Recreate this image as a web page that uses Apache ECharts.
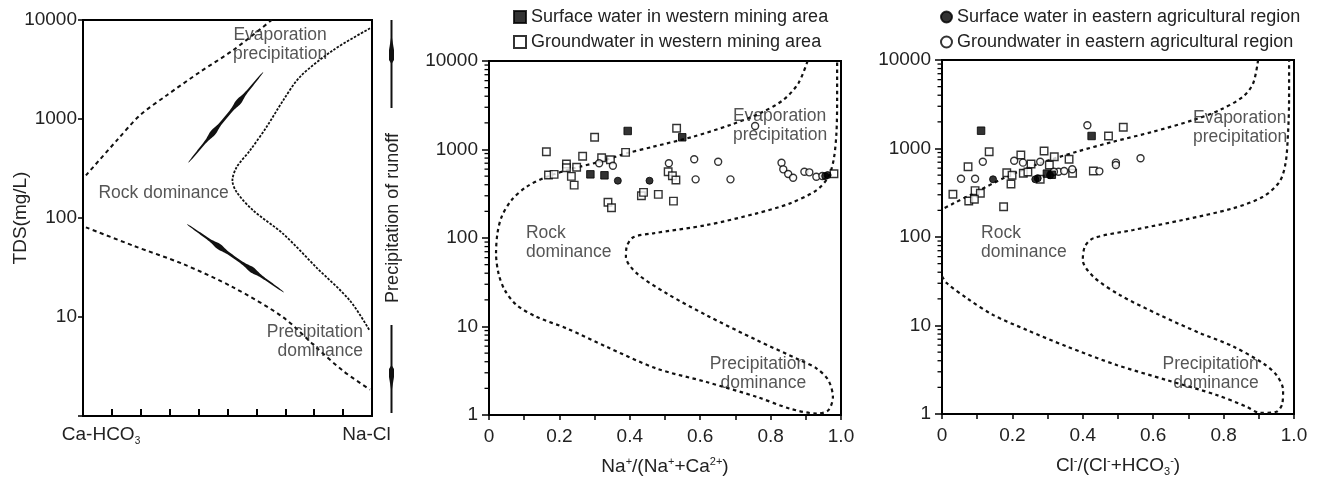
<!DOCTYPE html>
<html><head><meta charset="utf-8">
<script src="https://cdn.jsdelivr.net/npm/echarts@6/dist/echarts.min.js"></script>
<style>html,body{margin:0;padding:0;background:#fff}#c{width:1320px;height:477px}</style>
</head><body><div id="c"></div><script>
// ---------------- DATA ----------------
const SW_W = 'Surface water in western mining area';
const GW_W = 'Groundwater in western mining area';
const SW_E = 'Surface water in eastern agricultural region';
const GW_E = 'Groundwater in eastern agricultural region';

// Panel 1 (schematic Gibbs), x in 0..10 units between Ca-HCO3 and Na-Cl, y = TDS mg/L
const p1Upper = [[0.10,269],[1.17,608],[1.97,1090],[2.90,1738],[4.05,2990],[5.20,4970],[6.53,10000]];
const p1Lower = [[0.10,80.5],[1.74,52.5],[3.47,34.2],[5.20,19.9],[6.93,9.9],[8.08,4.9],[9.01,2.84],[9.93,1.85]];
const p1Right = [[9.93,8240],[8.66,4970],[7.51,2670],[6.93,1548],[6.35,830],[5.78,482],[5.32,327],[5.17,239],[5.32,182],[5.89,119],[6.93,69],[8.08,31.6],[9.24,14.6],[9.93,7.2]];
const p1Spindles = [[3.64,361,6.24,2990],[3.59,87,6.96,17.7]];
const p1EndLabels = ['Ca-HCO', '3', 'Na-Cl'];

// Panel 2: Na+/(Na+ + Ca2+)
const gibbsNa = [[0.905,10000],[0.879,5610],[0.836,3630],[0.770,2570],[0.685,1893],[0.580,1396],[0.467,1076],[0.391,906],[0.315,728],[0.240,612],[0.164,492],[0.107,380],[0.064,268],[0.036,174],[0.024,113],[0.020,67],[0.027,39.8],[0.045,25.7],[0.079,17.4],[0.136,12.8],[0.221,9.5],[0.334,5.9],[0.476,3.35],[0.618,2.36],[0.761,1.60],[0.855,1.18],[0.931,1.04],[0.964,1.13],[0.977,1.60],[0.964,2.47],[0.931,3.35],[0.884,4.16],[0.761,7.0],[0.618,13.4],[0.505,23.6],[0.420,39.8],[0.389,61],[0.391,79],[0.410,102],[0.467,113],[0.618,140],[0.761,190],[0.855,246],[0.931,348],[0.964,492],[0.979,760],[0.987,1524],[0.989,3630],[0.989,10000]];
const naSurfWest = [[0.394,1619],[0.549,1374],[0.288,524],[0.328,511]];
const naGroundWest = [[0.163,944],[0.300,1374],[0.388,929],[0.266,838],[0.220,686],[0.220,622],[0.249,629],[0.320,807],[0.345,767],[0.169,515],[0.185,524],[0.234,497],[0.242,396],[0.338,253],[0.348,220],[0.433,300],[0.439,328],[0.481,311],[0.533,1738],[0.509,561],[0.521,506],[0.531,452],[0.524,261],[0.980,532]];
const naSurfEast = [[0.366,444],[0.456,444],[0.955,501],[0.962,514]];
const naGroundEast = [[0.313,698],[0.352,656],[0.511,698],[0.756,1845],[0.583,775],[0.651,728],[0.587,460],[0.686,460],[0.831,709],[0.836,597],[0.850,528],[0.864,480],[0.896,561],[0.910,552],[0.930,492],[0.947,501]];

// Panel 3: Cl-/(Cl- + HCO3-)
const gibbsClUpper = [[0.898,10000],[0.884,5460],[0.855,3850],[0.789,2720],[0.714,2100],[0.600,1549],[0.487,1194],[0.383,920],[0.279,681],[0.184,480],[0.090,312],[0.033,240],[0.0,205]];
const gibbsClLower = [[0.0,36],[0.014,30],[0.071,20.3],[0.146,13.1],[0.241,8.9],[0.354,5.8],[0.496,3.58],[0.638,2.42],[0.780,1.64],[0.865,1.21],[0.903,1.03],[0.950,1.06],[0.967,1.32],[0.969,1.87],[0.950,2.76],[0.912,3.74],[0.827,5.8],[0.733,8.2],[0.619,13.1],[0.506,22],[0.430,35.6],[0.400,55],[0.406,78],[0.430,97],[0.543,120],[0.685,156],[0.827,211],[0.912,285],[0.959,422],[0.976,681],[0.983,1486],[0.986,3530],[0.986,10000]];
const clSurfWest = [[0.111,1589],[0.425,1384],[0.298,520],[0.312,505]];
const clGroundWest = [[0.031,304],[0.074,623],[0.134,920],[0.094,334],[0.109,312],[0.076,255],[0.092,267],[0.175,220],[0.184,533],[0.196,397],[0.199,498],[0.224,845],[0.231,525],[0.244,543],[0.253,668],[0.290,937],[0.305,651],[0.319,808],[0.361,755],[0.371,525],[0.279,449],[0.473,1384],[0.515,1735],[0.430,557]];
const clSurfEast = [[0.145,449],[0.265,449],[0.272,461],[0.307,498]];
const clGroundEast = [[0.413,1830],[0.116,709],[0.054,456],[0.094,456],[0.205,728],[0.230,692],[0.279,709],[0.331,547],[0.347,557],[0.370,582],[0.447,552],[0.494,692],[0.494,651],[0.564,775],[0.318,547]];

// ---------------- STYLE / BUILD ----------------
const FONT = "'Liberation Sans', Arial, sans-serif";
const TXT = '#222';
const minorLogTicks = [];
for (let d = 0; d < 4; d++) for (let k = 2; k <= 9; k++) minorLogTicks.push([0, k * Math.pow(10, d)]);

const chart = echarts.init(document.getElementById('c'), null, {renderer: 'canvas'});

const logFmt = v => String(Math.round(v));
function ratioX(gi) {
  return {
    gridIndex: gi, type: 'value', min: 0, max: 1, interval: 0.1,
    axisLine: {show: true, onZero: false, lineStyle: {color: '#000', width: 2}},
    axisTick: {show: true, inside: false, length: 5, lineStyle: {color: '#000', width: 1.5}},
    axisLabel: {fontSize: 19, fontFamily: FONT, color: TXT, margin: 12,
      formatter: v => v === 0 ? '0' : (Math.round(v * 10) % 2 === 0 ? v.toFixed(1) : '')},
    splitLine: {show: false},
    nameLocation: 'middle', nameGap: 41, nameMoveOverlap: false,
    nameTextStyle: {fontSize: 19, fontFamily: FONT, color: TXT, lineHeight: 22,
      rich: {sup: {fontSize: 11, lineHeight: 11, verticalAlign: 'top', fontFamily: FONT, color: TXT},
             sub: {fontSize: 11, lineHeight: 11, verticalAlign: 'bottom', fontFamily: FONT, color: TXT}}}
  };
}
function logY(gi) {
  return {
    gridIndex: gi, type: 'log', logBase: 10, min: 1, max: 10000,
    axisLine: {show: true, onZero: false, lineStyle: {color: '#000', width: 2}},
    axisTick: {show: true, length: 7, lineStyle: {color: '#000', width: 1.5}},
    axisLabel: {fontSize: 19, fontFamily: FONT, color: TXT, margin: 11, formatter: logFmt},
    splitLine: {show: false}
  };
}
function minorTicks(xi, yi) {
  return {type: 'custom', xAxisIndex: xi, yAxisIndex: yi, data: minorLogTicks, silent: true, clip: false, z: 6,
    renderItem: (params, api) => {
      const p = api.coord([api.value(0), api.value(1)]);
      return {type: 'line', shape: {x1: p[0] - 4.5, y1: p[1], x2: p[0], y2: p[1]},
        style: {stroke: '#000', lineWidth: 1.3}};
    }};
}

function scatter(name, xi, yi, data, symbol, filled) {
  return {
    type: 'scatter', name, xAxisIndex: xi, yAxisIndex: yi, data, symbol,
    symbolSize: symbol === 'rect' ? 7.5 : 7, z: 4,
    itemStyle: filled ? {color: '#000', borderColor: '#000', borderWidth: 1}
                      : {color: '#fff', borderColor: '#000', borderWidth: 1.4},
    emphasis: {disabled: true}
  };
}
function curve(xi, yi, data, width, dash) {
  return {type: 'line', xAxisIndex: xi, yAxisIndex: yi, data, showSymbol: false, symbol: 'none',
    smooth: 0.3, silent: true, z: 2,
    lineStyle: {color: '#111', width, type: dash}};
}
function annot(xi, yi, items) {
  return {type: 'scatter', xAxisIndex: xi, yAxisIndex: yi, symbolSize: 1, silent: true, z: 5,
    itemStyle: {color: 'rgba(0,0,0,0)'},
    data: items.map(it => ({value: [it[0], it[1]], name: it[2],
      label: {show: true, position: 'inside', formatter: '{b}', align: it[3], verticalAlign: 'middle',
        fontSize: 17.5, lineHeight: 19, color: '#2a2a2a', fontFamily: FONT}}))};
}
function spindle(params, api) {
  const a = api.coord([api.value(0), api.value(1)]);
  const b = api.coord([api.value(2), api.value(3)]);
  const dx = b[0] - a[0], dy = b[1] - a[1], L = Math.hypot(dx, dy);
  const nx = -dy / L, ny = dx / L;
  const N = 90, left = [], right = [];
  for (let i = 0; i <= N; i++) {
    const t = i / N;
    const w = 1.3 * Math.pow(Math.sin(Math.PI * t), 0.4)
      + 1.6 * (Math.exp(-Math.pow((t - 0.33) / 0.06, 2)) + Math.exp(-Math.pow((t - 0.67) / 0.06, 2)));
    const px = a[0] + dx * t, py = a[1] + dy * t;
    left.push([px + nx * w, py + ny * w]);
    right.push([px - nx * w, py - ny * w]);
  }
  return {type: 'polygon', shape: {points: left.concat(right.reverse())}, style: {fill: '#111'}};
}

const DASH = [3.5, 3.5];
const GRID_BASE = {show: true, borderColor: '#000', borderWidth: 2, backgroundColor: 'transparent',
  containLabel: false, outerBoundsMode: 'none'};
const option = {
  animation: false,
  backgroundColor: '#fff',
  textStyle: {fontFamily: FONT},
  grid: [
    Object.assign({left: 83, top: 20, width: 289, height: 396}, GRID_BASE),
    Object.assign({left: 489, top: 61, width: 352, height: 354}, GRID_BASE),
    Object.assign({left: 942, top: 60, width: 352, height: 354}, GRID_BASE)
  ],
  legend: [
    {left: 508, top: 3, orient: 'vertical', itemWidth: 12, itemHeight: 12, itemGap: 7, icon: 'rect',
     selectedMode: false, textStyle: {fontSize: 18, fontFamily: FONT, color: TXT},
     data: [SW_W, GW_W]},
    {left: 935, top: 3, orient: 'vertical', itemWidth: 11, itemHeight: 11, itemGap: 7, icon: 'circle',
     selectedMode: false, textStyle: {fontSize: 18, fontFamily: FONT, color: TXT},
     data: [SW_E, GW_E]}
  ],
  xAxis: [
    {gridIndex: 0, type: 'value', min: 0, max: 10, interval: 1,
     axisLine: {show: true, onZero: false, lineStyle: {color: '#000', width: 2}},
     axisTick: {show: true, inside: true, length: 7, lineStyle: {color: '#000', width: 2}},
     axisLabel: {fontSize: 19, fontFamily: FONT, color: TXT, margin: 8, lineHeight: 22,
       formatter: v => v === 0 ? '{g| }{a|' + p1EndLabels[0] + '}{s|' + p1EndLabels[1] + '}'
                     : (v === 10 ? '{a|' + p1EndLabels[2] + '}{h| }' : ''),
       rich: {a: {fontSize: 19, fontFamily: FONT, color: TXT, lineHeight: 22},
              s: {fontSize: 10, fontFamily: FONT, color: TXT, lineHeight: 10, verticalAlign: 'bottom'},
              g: {width: 36, fontSize: 19}, h: {width: 11, fontSize: 19}}},
     splitLine: {show: false}},
    Object.assign(ratioX(1), {name: 'Na{sup|+}/(Na{sup|+}+Ca{sup|2+})'}),
    Object.assign(ratioX(2), {name: 'Cl{sup|-}/(Cl{sup|-}+HCO{sub|3}{sup|-})'})
  ],
  yAxis: [
    {gridIndex: 0, type: 'log', logBase: 10, min: 1, max: 10000,
     axisLine: {show: true, onZero: false, lineStyle: {color: '#000', width: 2}},
     axisTick: {show: true, length: 5, lineStyle: {color: '#000', width: 1.5}},
     axisLabel: {fontSize: 19, fontFamily: FONT, color: TXT, margin: 6, formatter: v => Math.round(v) === 1 ? '' : logFmt(v)},
     splitLine: {show: false},
     name: 'TDS(mg/L)', nameLocation: 'middle', nameGap: 53, nameMoveOverlap: false,
     nameTextStyle: {fontSize: 19, fontFamily: FONT, color: TXT}},
    {gridIndex: 0, type: 'value', min: 0, max: 1, position: 'right',
     axisLine: {show: false}, axisTick: {show: false}, axisLabel: {show: false}, splitLine: {show: false},
     name: 'Precipitation of runoff', nameLocation: 'middle', nameGap: 12, nameMoveOverlap: false,
     nameTextStyle: {fontSize: 18, fontFamily: FONT, color: TXT}},
    logY(1),
    logY(2)
  ],
  graphic: [
    {type: 'line', shape: {x1: 391.5, y1: 20, x2: 391.5, y2: 108}, style: {stroke: '#111', lineWidth: 2}},
    {type: 'polygon', shape: {points: [[391.5, 35], [394, 50], [394, 60], [391.5, 64], [389, 60], [389, 50]]}, style: {fill: '#111'}},
    {type: 'line', shape: {x1: 391.5, y1: 325, x2: 391.5, y2: 413}, style: {stroke: '#111', lineWidth: 2}},
    {type: 'polygon', shape: {points: [[391.5, 392], [394, 377], [394, 369], [391.5, 365], [389, 369], [389, 377]]}, style: {fill: '#111'}}
  ],
  series: [
    // panel 1
    curve(0, 0, p1Upper, 2, [4, 3.5]),
    curve(0, 0, p1Lower, 2, [4, 3.5]),
    curve(0, 0, p1Right, 1.8, [2.5, 1.5]),
    {type: 'custom', xAxisIndex: 0, yAxisIndex: 0, data: p1Spindles, encode: {x: [0, 2], y: [1, 3]},
     renderItem: spindle, silent: true, z: 3},
    annot(0, 0, [[6.82, 5580, 'Evaporation\nprecipitation', 'center'],
                 [2.79, 177, 'Rock dominance', 'center'],
                 [9.69, 5.66, 'Precipitation\ndominance', 'right']]),
    // panel 2
    curve(1, 2, gibbsNa, 2.2, DASH),
    minorTicks(1, 2),
    scatter(GW_W, 1, 2, naGroundWest, 'rect', false),
    scatter(GW_E, 1, 2, naGroundEast, 'circle', false),
    scatter(SW_W, 1, 2, naSurfWest, 'rect', true),
    scatter(SW_E, 1, 2, naSurfEast, 'circle', true),
    annot(1, 2, [[0.693, 1845, 'Evaporation\nprecipitation', 'left'],
                 [0.105, 88.7, 'Rock\ndominance', 'left'],
                 [0.901, 2.92, 'Precipitation\ndominance', 'right']]),
    // panel 3
    curve(2, 3, gibbsClUpper, 2.2, DASH),
    curve(2, 3, gibbsClLower, 2.2, DASH),
    minorTicks(2, 3),
    scatter(GW_W, 2, 3, clGroundWest, 'rect', false),
    scatter(GW_E, 2, 3, clGroundEast, 'circle', false),
    scatter(SW_W, 2, 3, clSurfWest, 'rect', true),
    scatter(SW_E, 2, 3, clSurfEast, 'circle', true),
    annot(2, 3, [[0.713, 1705, 'Evaporation\nprecipitation', 'left'],
                 [0.111, 85.5, 'Rock\ndominance', 'left'],
                 [0.900, 2.83, 'Precipitation\ndominance', 'right']])
  ]
};
chart.setOption(option);
</script></body></html>
